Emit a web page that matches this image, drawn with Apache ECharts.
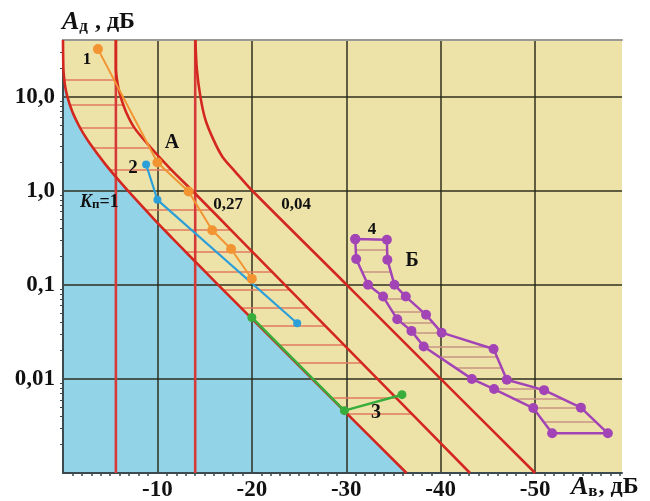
<!DOCTYPE html>
<html>
<head>
<meta charset="utf-8">
<script src="https://cdn.jsdelivr.net/npm/echarts@6/dist/echarts.min.js"></script>
<style>
html, body { margin: 0; padding: 0; background: #fff; }
#chart { width: 650px; height: 501px; }
</style>
</head>
<body>
<div id="chart"></div>
<script>
// Оси
const xMin = -59.2;
const xMax = 0;
const yMin = 0.001;
const yMax = 40;
const xTicks = [-10, -20, -30, -40, -50];
const yTicks = [0.01, 0.1, 1, 10];
const yTickLabels = ['0,01', '0,1', '1,0', '10,0'];

// Кривые Кп = 1, 0,27, 0,04  [Aв, Aд]
const curveK1 = [[0, 40], [-0.04, 20], [-0.11, 16], [-0.22, 13], [-0.46, 10], [-0.97, 7], [-1.65, 5],
    [-2.2, 4], [-3.02, 3], [-4.33, 2], [-5.35, 1.5], [-6.87, 1], [-9.63, 0.5], [-11.54, 0.316],
    [-13.47, 0.2], [-16.43, 0.1], [-26.38, 0.01], [-36.38, 0.001]];
const curveK027 = [[-5.6, 40], [-5.6, 20], [-5.8, 13.4], [-6.1, 10], [-6.7, 6.8], [-7.6, 4.6], [-9.2, 2.95],
    [-11.4, 1.7], [-13.7, 1], [-18.6, 0.316], [-23.5, 0.1], [-33.3, 0.01], [-43.1, 0.001]];
const curveK004 = [[-14.02, 40], [-14.18, 19.4], [-14.55, 10], [-15.08, 5.69], [-15.93, 3.49], [-16.88, 2.3],
    [-18.25, 1.59], [-20.05, 1], [-30.05, 0.1], [-40.0, 0.01], [-50.0, 0.001]];
const asymptotes = [-5.6, -14.0];

// Экспериментальные точки
const series1 = [[-3.7, 32], [-10.0, 2.0], [-13.3, 0.98], [-15.8, 0.38], [-17.8, 0.24], [-20.0, 0.116]];
const series2 = [[-8.8, 1.9], [-10.0, 0.8], [-24.8, 0.039]];
const series3 = [[-20.0, 0.045], [-29.8, 0.0046], [-35.9, 0.0068]];
const leftB = [[-30.95, 0.306], [-31.05, 0.188], [-32.3, 0.1], [-33.9, 0.075], [-35.4, 0.043], [-36.9, 0.0324],
    [-38.2, 0.0221], [-43.3, 0.01], [-45.65, 0.0078], [-49.8, 0.0049], [-51.8, 0.00264]];
const rightB = [[-34.3, 0.301], [-34.35, 0.185], [-35.1, 0.1], [-36.3, 0.075], [-38.45, 0.048], [-40.1, 0.031],
    [-45.6, 0.0208], [-47.0, 0.0098], [-50.95, 0.0076], [-54.85, 0.00495], [-57.7, 0.00264]];

// Штриховка: [Aд, Aв слева, Aв справа]
const hatchA = [[15.2, 0, -5.7], [8.2, -0.7, -6.4], [4.68, -1.8, -7.4], [2.87, -3.15, -9.3], [1.67, -5.0, -11.5],
    [0.628, -8.7, -15.7], [0.385, -10.7, -17.8], [0.224, -13.0, -20.1], [0.137, -15.1, -22.2],
    [0.0885, -16.9, -24.0], [0.0569, -18.9, -25.9], [0.0366, -20.8, -27.8], [0.023, -22.8, -29.7],
    [0.0148, -24.7, -31.6], [0.00628, -28.4, -35.3], [0.00425, -30.1, -36.9]];
const hatchB = [[0.236, -31.0, -34.3], [0.138, -31.7, -34.7], [0.071, -34.0, -36.6], [0.052, -34.9, -38.1],
    [0.040, -35.8, -39.1], [0.0306, -37.1, -40.3], [0.0221, -38.2, -44.8], [0.0173, -39.8, -46.0],
    [0.013, -41.6, -46.5], [0.0078, -45.7, -50.6], [0.0062, -47.6, -52.8], [0.0049, -49.8, -54.8],
    [0.0035, -50.9, -56.4]];

const serif = '"Liberation Serif", "Times New Roman", serif';
const gridColor = 'rgba(40,40,25,0.72)';

function hatchLines(rows) {
    return rows.map(r => ({ coords: [[r[1], r[0]], [r[2], r[0]]] }));
}

function redCurve(data) {
    return {
        type: 'line', data: data, symbol: 'none', z: 4, silent: true, smooth: 0.3,
        lineStyle: { color: '#d3271f', width: 2.6 }
    };
}

function points(data, color, size, width) {
    return {
        type: 'line', data: data, z: 5, silent: true,
        symbol: 'circle', symbolSize: size,
        itemStyle: { color: color },
        lineStyle: { color: color, width: width }
    };
}

function text(x, y, str, size) {
    return {
        type: 'text', x: x, y: y, z: 20,
        style: { text: str, font: 'bold ' + size + 'px ' + serif, fill: '#111',
                 align: 'center', verticalAlign: 'middle' }
    };
}

function axisName(x, y, sub, rest) {
    return {
        type: 'text', x: x, y: y, z: 20,
        style: {
            text: '{a|A}{s|' + sub + '}{n|' + rest + '}', verticalAlign: 'middle',
            rich: {
                a: { font: 'italic bold 26px ' + serif, fill: '#111' },
                s: { font: 'bold 17px ' + serif, fill: '#111', padding: [9, 1, 0, 0] },
                n: { font: 'bold 24px ' + serif, fill: '#111' }
            }
        }
    };
}

const chart = echarts.init(document.getElementById('chart'));

const pathB = leftB.concat(rightB.slice().reverse(), [leftB[0]]);

chart.setOption({
    animation: false,
    grid: {
        left: 63, right: 28, top: 40, bottom: 28,
        show: true, backgroundColor: '#ede3a9', borderWidth: 0,
        outerBoundsMode: 'none'
    },
    xAxis: [{
        type: 'value', min: xMin, max: xMax, inverse: true, splitNumber: 6, z: 2,
        axisLine: { show: true, lineStyle: { color: '#3b4a4e', width: 2 } },
        axisTick: { show: false },
        minorTick: { show: true, splitNumber: 10, length: 3, inside: true,
                     lineStyle: { color: '#3b4a4e', width: 1.5 } },
        axisLabel: {
            margin: 6, color: '#111', fontFamily: serif, fontWeight: 'bold', fontSize: 23,
            formatter: v => {
                const i = xTicks.findIndex(t => Math.abs(t - v) < 1e-6);
                return i < 0 ? '' : String(xTicks[i]);
            }
        },
        splitLine: { show: true, showMinLine: false, lineStyle: { color: gridColor, width: 2 } }
    }, {
        type: 'value', position: 'top', min: xMin, max: xMax, inverse: true, z: 3,
        axisLine: { show: true, lineStyle: { color: '#9a9a94', width: 2 } },
        axisTick: { show: false }, axisLabel: { show: false }, splitLine: { show: false }
    }],
    yAxis: {
        type: 'log', min: yMin, max: yMax, logBase: 10, z: 2,
        axisLine: { show: true, lineStyle: { color: '#3b4a4e', width: 2 } },
        axisTick: { show: false },
        minorTick: { show: true, splitNumber: 9, length: 3, inside: true,
                     lineStyle: { color: '#3b4a4e', width: 1 } },
        axisLabel: {
            margin: 8, color: '#111', fontFamily: serif, fontWeight: 'bold', fontSize: 23,
            formatter: v => {
                const i = yTicks.findIndex(t => Math.abs(Math.log10(t) - Math.log10(v)) < 1e-6);
                return i < 0 ? '' : yTickLabels[i];
            }
        },
        splitLine: { show: true, showMaxLine: false, lineStyle: { color: gridColor, width: 2 } }
    },
    series: [
        {
            type: 'line', data: curveK1, symbol: 'none', z: 1, silent: true, smooth: 0.3,
            lineStyle: { width: 0 },
            areaStyle: { color: '#93d3e7', opacity: 1, origin: 'start' }
        },
        {
            type: 'lines', coordinateSystem: 'cartesian2d', z: 3, silent: true,
            data: hatchLines(hatchA),
            lineStyle: { color: '#e27a5e', width: 1.5, opacity: 1 }
        },
        {
            type: 'lines', coordinateSystem: 'cartesian2d', z: 3, silent: true,
            data: hatchLines(hatchB),
            lineStyle: { color: '#c79486', width: 1.5, opacity: 1 }
        },
        ...asymptotes.map(a => ({
            type: 'line', data: [[a, yMin], [a, yMax]], symbol: 'none', z: 3, silent: true,
            lineStyle: { color: '#d63a38', width: 2.6 }
        })),
        redCurve(curveK1),
        redCurve(curveK027),
        redCurve(curveK004),
        points(series1, '#f39433', 10, 2),
        points(series2, '#2c9ed8', 8, 2.2),
        points(series3, '#38ad3c', 9, 2.5),
        points(pathB, '#a244b6', 10, 2.5)
    ],
    graphic: [
        text(87, 60, '1', 17),
        text(172, 143, 'A', 20),
        text(133, 168, '2', 19),
        text(228, 205, '0,27', 17),
        text(296, 205, '0,04', 17),
        text(372, 230, '4', 17),
        text(412, 261, 'Б', 20),
        text(376, 413, '3', 20),
        {
            type: 'text', x: 80, y: 202, z: 20,
            style: {
                text: '{k|K}{s|п}{n|=1}', verticalAlign: 'middle',
                rich: {
                    k: { font: 'italic bold 18px ' + serif, fill: '#111' },
                    s: { font: 'bold 13px ' + serif, fill: '#111', padding: [6, 0, 0, 0] },
                    n: { font: 'bold 18px ' + serif, fill: '#111' }
                }
            }
        },
        axisName(62, 22, 'д', ' , дБ'),
        axisName(571, 487, 'в', ', дБ')
    ]
});
</script>
</body>
</html>
